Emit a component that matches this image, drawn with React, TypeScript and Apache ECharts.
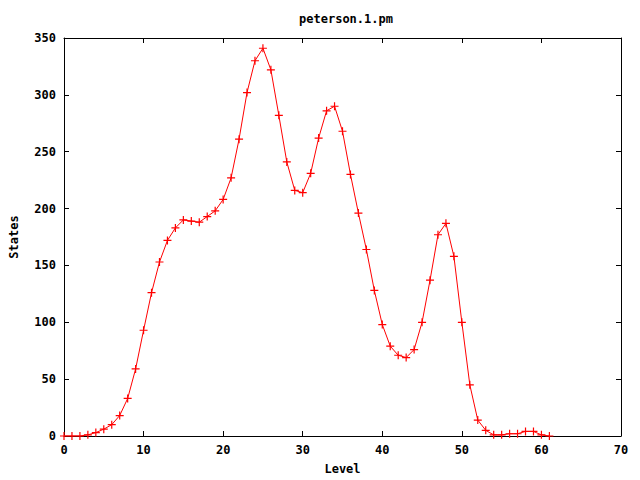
import React, { useEffect, useRef } from "react";
import * as echarts from "echarts";

const levels: number[] = [
  0, 1, 2, 3, 4, 5, 6, 7, 8, 9, 10, 11, 12, 13, 14, 15, 16, 17, 18, 19, 20,
  21, 22, 23, 24, 25, 26, 27, 28, 29, 30, 31, 32, 33, 34, 35, 36, 37, 38, 39,
  40, 41, 42, 43, 44, 45, 46, 47, 48, 49, 50, 51, 52, 53, 54, 55, 56, 57, 58,
  59, 60, 61,
];
const states: number[] = [
  0, 0, 0, 1, 3, 6, 10, 18, 33, 59, 93, 126, 153, 172, 183, 190, 189, 188, 193,
  198, 208, 227, 261, 302, 330, 341, 322, 282, 241, 216, 214, 231, 262, 286,
  290, 268, 230, 196, 164, 128, 98, 79, 71, 69, 76, 100, 137, 177, 187, 158,
  100, 45, 14, 5, 1, 1, 2, 2, 4, 4, 1, 0,
];
const titleText = "peterson.1.pm";
const xName = "Level";
const yName = "States";

const FONT = "'DejaVu Sans Mono', monospace";

export default function App() {
  const ref = useRef<HTMLDivElement>(null);
  useEffect(() => {
    document.body.style.margin = "0";
    const chart = echarts.init(ref.current!, null, { renderer: "svg" });
    const data = levels.map((l, i) => [l, states[i]]);
    const axisLine = { show: true, onZero: false, lineStyle: { color: "#000", width: 1 } };
    const tick = { show: true, inside: true, length: 5, lineStyle: { color: "#000" } };
    const lbl = { color: "#000", fontFamily: FONT, fontWeight: "bold" as const, fontSize: 12 };
    chart.setOption({
      animation: false,
      backgroundColor: "#fff",
      title: {
        text: titleText,
        left: 341,
        top: 8,
        textAlign: "center",
        textStyle: { ...lbl },
      },
      grid: { left: 62, right: 19, top: 38, bottom: 40, containLabel: false },
      xAxis: [
        {
          type: "value",
          min: 0,
          max: 70,
          interval: 10,
          position: "bottom",
          axisLine,
          axisTick: tick,
          splitLine: { show: false },
          axisLabel: { ...lbl, margin: 8 },
          name: xName,
          nameLocation: "middle",
          nameGap: 27,
          nameTextStyle: lbl,
        },
        {
          type: "value",
          min: 0,
          max: 70,
          interval: 10,
          position: "top",
          axisLine,
          axisTick: tick,
          splitLine: { show: false },
          axisLabel: { show: false },
        },
      ],
      yAxis: [
        {
          type: "value",
          min: 0,
          max: 350,
          interval: 50,
          position: "left",
          axisLine,
          axisTick: tick,
          splitLine: { show: false },
          axisLabel: { ...lbl, margin: 8 },
          name: yName,
          nameLocation: "middle",
          nameGap: 44,
          nameRotate: 90,
          nameTextStyle: lbl,
        },
        {
          type: "value",
          min: 0,
          max: 350,
          interval: 50,
          position: "right",
          axisLine,
          axisTick: tick,
          splitLine: { show: false },
          axisLabel: { show: false },
        },
      ],
      series: [
        {
          type: "line",
          data,
          xAxisIndex: 0,
          yAxisIndex: 0,
          lineStyle: { color: "#ff0000", width: 1 },
          symbol: "path://M0,5L10,5M5,0L5,10",
          symbolSize: 8,
          showAllSymbol: true,
          itemStyle: { color: "none", borderColor: "#ff0000", borderWidth: 1.2 },
        },
      ],
    });
    return () => chart.dispose();
  }, []);
  return <div ref={ref} style={{ width: 640, height: 480 }} />;
}
